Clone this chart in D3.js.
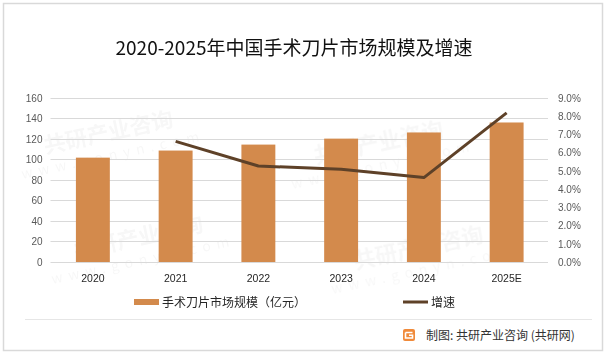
<!DOCTYPE html>
<html><head><meta charset="utf-8">
<script src="https://cdn.jsdelivr.net/npm/d3@7"></script>
<style>body{margin:0;background:#fff}svg{display:block}</style>
</head><body>
<svg id="c" width="608" height="355"></svg>
<script>
const categories = ["2020","2021","2022","2023","2024","2025E"];
const marketSize = [101.5,108.4,114.2,120.0,126.0,135.7];
const growthRate = [null,6.6,5.25,5.08,4.62,8.16];
const leftTicks = [0,20,40,60,80,100,120,140,160];
const rightTicks = [0,1,2,3,4,5,6,7,8,9];
const titleText = "2020-2025年中国手术刀片市场规模及增速";
const legendBar = "手术刀片市场规模（亿元）";
const legendLine = "增速";
const sourceText = "制图: 共研产业咨询 (共研网)";
const watermarkMain = "共研产业咨询";
const watermarkSub = "www.gonyn.com";

const svg = d3.select("#c");
const font = "'Noto Sans CJK SC','Noto Sans',sans-serif";
const M = {l:51.5, r:548, t:97.5, b:262};

// outer frame
svg.append("rect").attr("x",3.5).attr("y",3.5).attr("width",599).attr("height",347)
  .attr("fill","none").attr("stroke","#d9d9d9").attr("stroke-width",1.5);
svg.append("line").attr("x1",25).attr("x2",592).attr("y1",319.5).attr("y2",319.5)
  .attr("stroke","#e6e6e6");

// faint watermarks (kept inside the frame)
const wm = svg.append("g").attr("fill","#000").attr("opacity",0.035).attr("font-family",font).attr("font-weight","bold");
[[110,140],[380,150],[140,245],[420,255]].forEach(([x,y])=>{
  const g = wm.append("g").attr("transform",`translate(${x},${y}) rotate(-12)`);
  g.append("text").attr("font-size",22).attr("text-anchor","middle").text(watermarkMain);
  g.append("text").attr("y",20).attr("font-size",14).attr("text-anchor","middle").attr("letter-spacing",6).attr("font-weight","normal").text(watermarkSub);
});

const x = d3.scaleBand().domain(categories).range([M.l,M.r]).paddingInner(0.59).paddingOuter(0.295);
const xc = d => x(d) + x.bandwidth()/2;
const yL = d3.scaleLinear().domain([0,160]).range([M.b,M.t]);
const yR = d3.scaleLinear().domain([0,9]).range([M.b,M.t]);

// grid
svg.append("g").selectAll("line").data(leftTicks).join("line")
  .attr("x1",M.l-1).attr("x2",M.r).attr("y1",d=>Math.round(yL(d))+0.5).attr("y2",d=>Math.round(yL(d))+0.5)
  .attr("stroke","#d9d9d9").attr("stroke-width",1);

// left axis
const axL = svg.append("g").attr("transform",`translate(${M.l-9},0)`)
  .call(d3.axisLeft(yL).tickValues(leftTicks).tickSize(0).tickPadding(0));
axL.select(".domain").remove();
axL.selectAll("text").attr("font-family","'Liberation Sans',Arial,sans-serif").attr("font-size",10).attr("fill","#595959").attr("dy","0.35em");

// right axis
const axR = svg.append("g").attr("transform",`translate(${M.r+10},0)`)
  .call(d3.axisRight(yR).tickValues(rightTicks).tickSize(0).tickPadding(0).tickFormat(d=>d.toFixed(1)+"%"));
axR.select(".domain").remove();
axR.selectAll("text").attr("font-family","'Liberation Sans',Arial,sans-serif").attr("font-size",10).attr("fill","#595959").attr("dy","0.35em");

// bottom axis
const axB = svg.append("g").attr("transform",`translate(0,${M.b})`)
  .call(d3.axisBottom(x).tickSize(0).tickPadding(13));
axB.select(".domain").remove();
axB.selectAll("text").attr("font-family","'Liberation Sans',Arial,sans-serif").attr("font-size",10.5).attr("fill","#262626");

// bars
svg.append("g").selectAll("rect").data(categories).join("rect")
  .attr("x",d=>x(d)).attr("width",x.bandwidth())
  .attr("y",(d,i)=>yL(marketSize[i])).attr("height",(d,i)=>yL(0)-yL(marketSize[i]))
  .attr("fill","#d38a4c");

// line
const pts = categories.map((c,i)=>[c,growthRate[i]]).filter(p=>p[1]!=null);
svg.append("path").datum(pts)
  .attr("d",d3.line().x(p=>xc(p[0])).y(p=>yR(p[1])))
  .attr("fill","none").attr("stroke","#5e4128").attr("stroke-width",3).attr("stroke-linejoin","round");

// title
svg.append("text").attr("x",294).attr("y",55).attr("text-anchor","middle")
  .attr("font-family",font).attr("font-size",19).attr("fill","#111").text(titleText);

// legend
svg.append("rect").attr("x",134).attr("y",299).attr("width",25).attr("height",6).attr("fill","#d38a4c");
svg.append("text").attr("x",162).attr("y",307).attr("font-family",font).attr("font-size",12).attr("fill","#262626").text(legendBar);
svg.append("line").attr("x1",403).attr("x2",428).attr("y1",302).attr("y2",302).attr("stroke","#5e4128").attr("stroke-width",3);
svg.append("text").attr("x",431).attr("y",307).attr("font-family",font).attr("font-size",12).attr("fill","#262626").text(legendLine);

// source logo
const lg = svg.append("g").attr("transform","translate(403,329)");
lg.append("rect").attr("width",12).attr("height",12).attr("rx",2).attr("fill","#f08a3a");
lg.append("path").attr("d","M2.5,3.5 H9.5 M2.5,3.5 V9 H9.5 V6.3 H6").attr("fill","none").attr("stroke","#fff").attr("stroke-width",1.6);
svg.append("text").attr("x",426).attr("y",340).attr("font-family",font).attr("font-size",12).attr("fill","#333").text(sourceText);
</script>
</body></html>
